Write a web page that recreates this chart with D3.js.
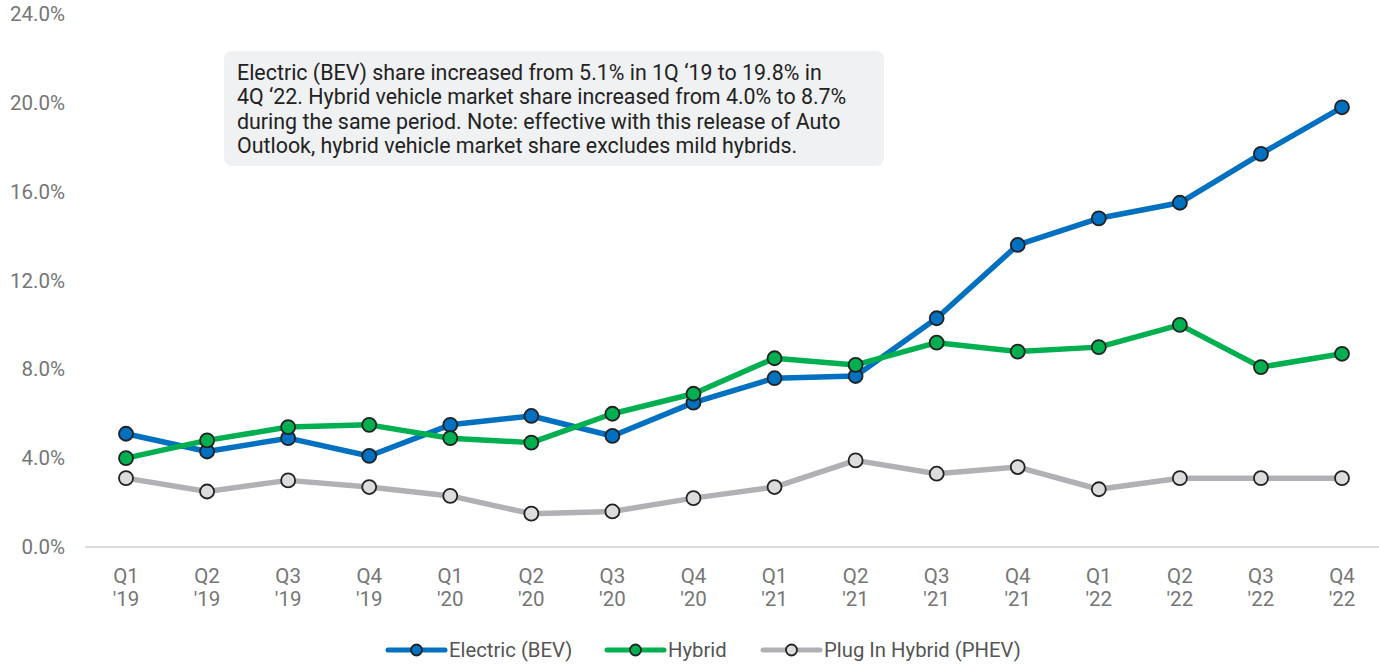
<!DOCTYPE html>
<html>
<head>
<meta charset="utf-8">
<script src="https://cdn.jsdelivr.net/npm/d3@7"></script>
<style>
  body { margin: 0; background: #fff; }
  text { font-family: "Roboto", "Liberation Sans", sans-serif; }
</style>
</head>
<body>
<div id="chart"></div>
<script>
// quarters along the x axis
const quarters = ['Q1', 'Q2', 'Q3', 'Q4', 'Q1', 'Q2', 'Q3', 'Q4', 'Q1', 'Q2', 'Q3', 'Q4', 'Q1', 'Q2', 'Q3', 'Q4'];
const years = ["'19", "'19", "'19", "'19", "'20", "'20", "'20", "'20", "'21", "'21", "'21", "'21", "'22", "'22", "'22", "'22"];

// market share (%)
const electric = [5.1, 4.3, 4.9, 4.1, 5.5, 5.9, 5.0, 6.5, 7.6, 7.7, 10.3, 13.6, 14.8, 15.5, 17.7, 19.8];
const hybrid = [4.0, 4.8, 5.4, 5.5, 4.9, 4.7, 6.0, 6.9, 8.5, 8.2, 9.2, 8.8, 9.0, 10.0, 8.1, 8.7];
const phev = [3.1, 2.5, 3.0, 2.7, 2.3, 1.5, 1.6, 2.2, 2.7, 3.9, 3.3, 3.6, 2.6, 3.1, 3.1, 3.1];

const seriesNames = ['Electric (BEV)', 'Hybrid', 'Plug In Hybrid (PHEV)'];
const yTicks = [0, 4, 8, 12, 16, 20, 24];

const noteLines = [
  'Electric (BEV) share increased from 5.1% in 1Q \u201819 to 19.8% in',
  '4Q \u201822. Hybrid vehicle market share increased from 4.0% to 8.7%',
  'during the same period. Note: effective with this release of Auto',
  'Outlook, hybrid vehicle market share excludes mild hybrids.'
];

const width = 1379, height = 664;
const margin = {top: 14, right: 0, bottom: 117, left: 85};

const svg = d3.select('#chart').append('svg')
    .attr('width', width)
    .attr('height', height);

const xScale = d3.scalePoint()
    .domain(d3.range(quarters.length))
    .range([126, 1342]);

const yScale = d3.scaleLinear()
    .domain([0, 24])
    .range([height - margin.bottom, margin.top]);

const colors = ['#0070c0', '#00b050', '#b1b1b5'];
const fills = ['#0070c0', '#00b050', '#dcdcdd'];

// y axis labels
const yAxis = d3.axisLeft(yScale)
    .tickValues(yTicks)
    .tickSize(0)
    .tickPadding(0)
    .tickFormat(d => d.toFixed(1) + '%');

svg.append('g')
    .attr('transform', 'translate(65,0)')
    .call(yAxis)
    .call(g => g.select('.domain').remove())
    .selectAll('text')
    .attr('fill', '#767676')
    .style('font-size', '20.5px');

// baseline
svg.append('line')
    .attr('x1', margin.left)
    .attr('x2', width)
    .attr('y1', yScale(0))
    .attr('y2', yScale(0))
    .attr('stroke', '#dcdcdc')
    .attr('stroke-width', 2);

// x labels, two rows
const xLab = svg.append('g').selectAll('text')
    .data(quarters)
    .join('text')
    .attr('x', (d, i) => xScale(i))
    .attr('y', 583)
    .attr('text-anchor', 'middle')
    .attr('fill', '#767676')
    .style('font-size', '20.5px');
xLab.append('tspan').attr('x', (d, i) => xScale(i)).text(d => d);
xLab.append('tspan').attr('x', (d, i) => xScale(i)).attr('dy', 22.5).text((d, i) => years[i]);

// annotation box
svg.append('rect')
    .attr('x', 224).attr('y', 51)
    .attr('width', 660).attr('height', 115)
    .attr('rx', 8)
    .attr('fill', '#f0f1f2');

svg.append('g').selectAll('text')
    .data(noteLines)
    .join('text')
    .attr('x', 237)
    .attr('y', (d, i) => 80 + i * 24.4)
    .attr('fill', '#222')
    .style('font-size', '21.4px')
    .text(d => d);

// lines + markers
const allSeries = [electric, hybrid, phev];
const line = d3.line()
    .x((d, i) => xScale(i))
    .y(d => yScale(d));

// draw phev first, then electric, then hybrid on top
[2, 0, 1].forEach(k => {
  const g = svg.append('g');
  g.append('path')
      .datum(allSeries[k])
      .attr('d', line)
      .attr('fill', 'none')
      .attr('stroke', colors[k])
      .attr('stroke-width', 5.5)
      .attr('stroke-linejoin', 'round');
  g.selectAll('circle')
      .data(allSeries[k])
      .join('circle')
      .attr('cx', (d, i) => xScale(i))
      .attr('cy', d => yScale(d))
      .attr('r', 7)
      .attr('fill', fills[k])
      .attr('stroke', '#222')
      .attr('stroke-width', 1.8);
});

// legend
const legendX = [388, 607, 763];
const legend = svg.append('g').selectAll('g')
    .data(seriesNames)
    .join('g')
    .attr('transform', (d, i) => `translate(${legendX[i]},650)`);

legend.append('line')
    .attr('x1', 0).attr('x2', 57)
    .attr('stroke', (d, i) => colors[i])
    .attr('stroke-width', 5)
    .attr('stroke-linecap', 'round');
legend.append('circle')
    .attr('cx', 28.5)
    .attr('r', 5.5)
    .attr('fill', (d, i) => fills[i])
    .attr('stroke', '#222')
    .attr('stroke-width', 1.8);
legend.append('text')
    .attr('x', 61)
    .attr('dy', '0.35em')
    .attr('fill', '#555')
    .style('font-size', '20.3px')
    .text(d => d);
</script>
</body>
</html>
